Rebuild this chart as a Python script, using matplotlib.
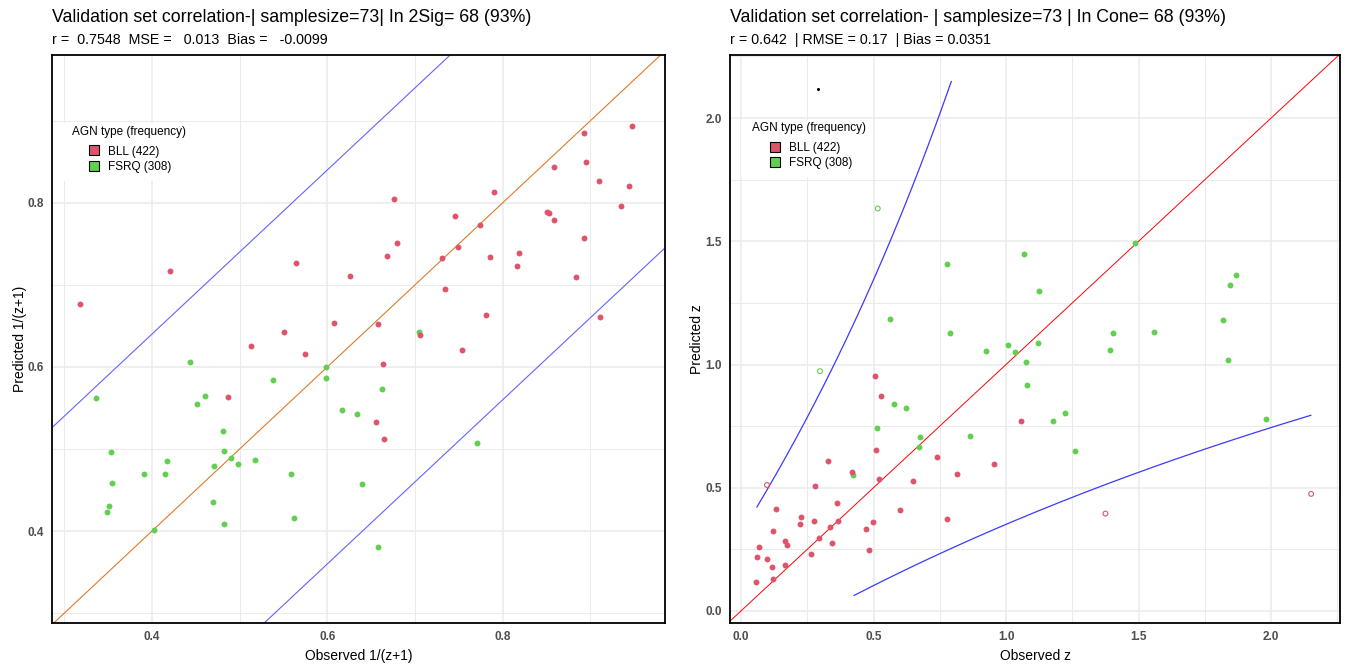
import matplotlib
matplotlib.use("Agg")
import matplotlib.pyplot as plt
from matplotlib.lines import Line2D
from matplotlib.patches import Rectangle
from matplotlib.ticker import MultipleLocator
import numpy as np

plt.rcParams['font.family'] = ['Liberation Sans', 'DejaVu Sans']

# ---- data: left panel, 1/(z+1) space ----
bll_obs_inv = [0.9475, 0.893, 0.895, 0.858, 0.910, 0.944, 0.790, 0.676, 0.935, 0.746,
               0.851, 0.853, 0.858, 0.774, 0.893, 0.679, 0.749, 0.668, 0.731, 0.785,
               0.818, 0.816, 0.564, 0.421, 0.626, 0.883, 0.734, 0.318, 0.781, 0.911,
               0.607, 0.658, 0.551, 0.706, 0.513, 0.575, 0.754, 0.663, 0.487, 0.656,
               0.665]
bll_pred_inv = [0.894, 0.885, 0.850, 0.844, 0.827, 0.821, 0.813, 0.804, 0.796, 0.784,
                0.789, 0.787, 0.779, 0.773, 0.757, 0.751, 0.746, 0.735, 0.733, 0.734,
                0.739, 0.723, 0.727, 0.717, 0.711, 0.710, 0.695, 0.677, 0.663, 0.661,
                0.654, 0.652, 0.642, 0.639, 0.626, 0.616, 0.621, 0.604, 0.563, 0.533,
                0.512]
fsrq_obs_inv = [0.704, 0.4435, 0.598, 0.598, 0.538, 0.662, 0.336, 0.461, 0.451, 0.617,
                0.634, 0.481, 0.353, 0.4825, 0.490, 0.4175, 0.471, 0.498, 0.518, 0.391,
                0.415, 0.558, 0.354, 0.639, 0.771, 0.351, 0.349, 0.470, 0.562, 0.4825,
                0.402, 0.658]
fsrq_pred_inv = [0.643, 0.606, 0.600, 0.587, 0.584, 0.573, 0.562, 0.565, 0.555, 0.547,
                 0.543, 0.522, 0.496, 0.497, 0.489, 0.485, 0.479, 0.482, 0.486, 0.469,
                 0.469, 0.469, 0.458, 0.457, 0.507, 0.431, 0.423, 0.435, 0.416, 0.409,
                 0.401, 0.381]

# ---- data: right panel, z space ----
bll_obs_z = [0.506, 0.527, 1.056, 0.509, 0.327, 0.738, 0.953, 0.419, 0.815, 0.520,
             0.648, 0.279, 0.361, 0.133, 0.599, 0.226, 0.776, 0.276, 0.366, 0.497,
             0.223, 0.336, 0.471, 0.120, 0.295, 0.166, 0.175, 0.343, 0.068, 0.483,
             0.264, 0.060, 0.098, 0.116, 0.167, 0.119, 0.056]
bll_pred_z = [0.953, 0.872, 0.771, 0.653, 0.609, 0.626, 0.596, 0.565, 0.556, 0.536,
              0.529, 0.505, 0.439, 0.412, 0.408, 0.383, 0.375, 0.363, 0.363, 0.359,
              0.351, 0.339, 0.331, 0.323, 0.294, 0.283, 0.267, 0.274, 0.258, 0.246,
              0.229, 0.217, 0.209, 0.177, 0.185, 0.130, 0.116]
bll_out_obs_z = [0.098, 1.375, 2.151]
bll_out_pred_z = [0.511, 0.395, 0.475]
fsrq_obs_z = [1.487, 1.069, 0.776, 1.866, 1.844, 1.126, 0.561, 1.817, 0.788, 1.405,
              1.558, 1.006, 1.119, 0.926, 1.392, 1.035, 1.074, 1.839, 1.078, 0.577,
              0.622, 1.221, 1.176, 1.979, 0.512, 0.675, 0.863, 0.673, 1.259, 0.423]
fsrq_pred_z = [1.493, 1.447, 1.406, 1.363, 1.321, 1.297, 1.184, 1.179, 1.128, 1.128,
               1.132, 1.080, 1.088, 1.055, 1.059, 1.049, 1.009, 1.018, 0.916, 0.839,
               0.823, 0.803, 0.771, 0.779, 0.742, 0.706, 0.710, 0.665, 0.649, 0.552]
fsrq_out_obs_z = [0.516, 0.298]
fsrq_out_pred_z = [1.633, 0.973]
stray_z = [0.292]
stray_pred = [2.12]

sig_offset = 0.24          # band half-width in 1/(z+1) space
cone_min, cone_max = 0.06, 2.15

legend_title = 'AGN type (frequency)'
legend_labels = ['BLL (422)', 'FSRQ (308)']
col_bll = '#DF536B'
col_fsrq = '#61D04F'

W, H = 1345, 669
fig = plt.figure(figsize=(W / 100, H / 100), dpi=100)


def fx(x):
    return x / W


def fy(y):
    return 1 - y / H


def px_axes(x0, y0, x1, y1):
    return fig.add_axes([fx(x0), fy(y1), (x1 - x0) / W, (y1 - y0) / H])


def style(ax, major, minor):
    ax.xaxis.set_major_locator(MultipleLocator(major))
    ax.xaxis.set_minor_locator(MultipleLocator(minor))
    ax.yaxis.set_major_locator(MultipleLocator(major))
    ax.yaxis.set_minor_locator(MultipleLocator(minor))
    ax.grid(True, which='major', color='#EBEBEB', lw=1.1, zorder=0)
    ax.grid(True, which='minor', color='#EBEBEB', lw=0.7, zorder=0)
    ax.set_axisbelow(True)
    for s in ax.spines.values():
        s.set_color('black')
        s.set_linewidth(1.3)
    ax.tick_params(which='both', length=0, labelsize=8.5, labelcolor='#4D4D4D', pad=6)
    for lab in ax.get_xticklabels() + ax.get_yticklabels():
        lab.set_fontweight('bold')


def legend(box, title_xy, key_x, row1_y):
    # white background box (pixel coords: x0, y0, x1, y1)
    x0, y0, x1, y1 = box
    fig.patches.append(Rectangle((fx(x0), fy(y1)), (x1 - x0) / W, (y1 - y0) / H,
                                 transform=fig.transFigure, facecolor='white',
                                 edgecolor='none', zorder=5))
    fig.text(fx(title_xy[0]), fy(title_xy[1]), legend_title, fontsize=8.5,
             va='center', ha='left', zorder=6)
    handles = [Line2D([], [], marker='s', ls='', markersize=6.5, markerfacecolor=c,
                      markeredgecolor='black', markeredgewidth=0.8)
               for c in (col_bll, col_fsrq)]
    leg = fig.legend(handles, legend_labels, loc='upper left',
                     bbox_to_anchor=(fx(key_x - 4.7), fy(row1_y - 6.5)),
                     bbox_transform=fig.transFigure, fontsize=8.5, frameon=False,
                     handlelength=0.8, handletextpad=0.8, labelspacing=0.28, borderpad=0,
                     borderaxespad=0)
    leg.set_zorder(6)


# ---- left panel ----
ax1 = px_axes(52, 55, 665, 623)
ax1.set_xlim(0.286, 0.985)
ax1.set_ylim(0.288, 0.98)
style(ax1, 0.2, 0.1)
ax1.axline((0.5, 0.5), slope=1, color='#E07A2A', lw=0.8, zorder=2)
ax1.axline((0.5, 0.5 + sig_offset), slope=1, color='#6464FF', lw=0.8, zorder=2)
ax1.axline((0.5, 0.5 - sig_offset), slope=1, color='#6464FF', lw=0.8, zorder=2)
ax1.scatter(fsrq_obs_inv, fsrq_pred_inv, s=18, color=col_fsrq, lw=0, zorder=3)
ax1.scatter(bll_obs_inv, bll_pred_inv, s=18, color=col_bll, lw=0, zorder=3)
ax1.set_xlabel('Observed 1/(z+1)', fontsize=10, labelpad=4)
ax1.set_ylabel('Predicted 1/(z+1)', fontsize=10, labelpad=0.5)
legend((63, 123, 190, 181), (72, 132), 94, 152)
fig.text(fx(52), fy(17), 'Validation set correlation-| samplesize=73| In 2Sig= 68 (93%)',
         fontsize=12.8, va='center', ha='left')
fig.text(fx(52), fy(40), 'r =  0.7548  MSE =   0.013  Bias =   -0.0099',
         fontsize=10.3, va='center', ha='left')

# ---- right panel ----
ax2 = px_axes(730, 55, 1340, 623)
ax2.set_xlim(-0.0415, 2.26)
ax2.set_ylim(-0.049, 2.256)
style(ax2, 0.5, 0.25)
ax2.axline((0, 0), slope=1, color='red', lw=0.7, zorder=2)
zz = np.linspace(cone_min, cone_max, 400)
upper = 1 / (1 / (zz + 1) - sig_offset) - 1
lower = 1 / (1 / (zz + 1) + sig_offset) - 1
upper = np.where((upper >= cone_min) & (upper <= cone_max), upper, np.nan)
lower = np.where((lower >= cone_min) & (lower <= cone_max), lower, np.nan)
ax2.plot(zz, upper, color='#3A3AFF', lw=0.9, zorder=2)
ax2.plot(zz, lower, color='#3A3AFF', lw=0.9, zorder=2)
ax2.scatter(fsrq_obs_z, fsrq_pred_z, s=18, color=col_fsrq, lw=0, zorder=3)
ax2.scatter(bll_obs_z, bll_pred_z, s=18, color=col_bll, lw=0, zorder=3)
ax2.scatter(fsrq_out_obs_z, fsrq_out_pred_z, s=12, facecolor='none', edgecolor=col_fsrq,
            lw=0.8, zorder=3)
ax2.scatter(bll_out_obs_z, bll_out_pred_z, s=12, facecolor='none', edgecolor=col_bll,
            lw=0.8, zorder=3)
ax2.scatter(stray_z, stray_pred, s=5, color='black', lw=0, zorder=3)
ax2.set_xlabel('Observed z', fontsize=10, labelpad=4)
ax2.set_ylabel('Predicted z', fontsize=10, labelpad=0.5)
legend((741, 120, 870, 177), (752, 128), 774.7, 148.5)
fig.text(fx(730), fy(17), 'Validation set correlation- | samplesize=73 | In Cone= 68 (93%)',
         fontsize=12.8, va='center', ha='left')
fig.text(fx(730), fy(40), 'r = 0.642  | RMSE = 0.17  | Bias = 0.0351',
         fontsize=10.3, va='center', ha='left')

fig.savefig('out.png', dpi=100)
